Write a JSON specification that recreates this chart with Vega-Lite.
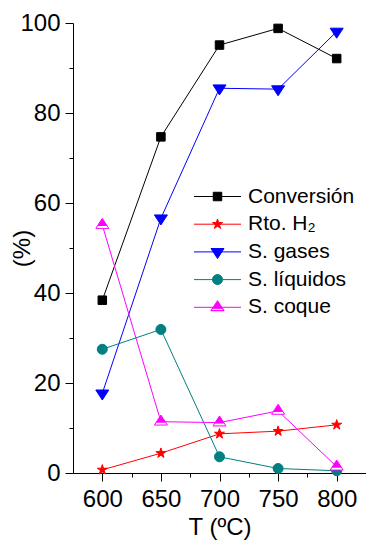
{
  "$schema": "https://vega.github.io/schema/vega-lite/v6.json",
  "width": 293,
  "height": 450,
  "autosize": "none",
  "padding": {"left": 73, "top": 23, "right": 0, "bottom": 69},
  "background": "white",
  "config": {
    "view": {"stroke": null},
    "axis": {
      "labelFont": "Liberation Sans",
      "titleFont": "Liberation Sans",
      "labelFontSize": 24,
      "titleFontSize": 24,
      "titleFontWeight": "normal",
      "labelColor": "#000",
      "titleColor": "#000",
      "domainColor": "#000",
      "tickColor": "#000",
      "domainWidth": 1,
      "tickWidth": 1,
      "grid": false
    },
    "legend": {
      "labelFont": "Liberation Sans",
      "labelFontSize": 21,
      "labelColor": "#000",
      "symbolStrokeWidth": 1,
      "symbolOpacity": 1,
      "padding": 0,
      "rowPadding": 5.7,
      "labelOffset": 20,
      "symbolSize": 100
    }
  },
  "data": {
    "values": [
      {"T": 600, "serie": "Conversión", "value": 38.4},
      {"T": 650, "serie": "Conversión", "value": 74.7},
      {"T": 700, "serie": "Conversión", "value": 95.1},
      {"T": 750, "serie": "Conversión", "value": 98.8},
      {"T": 800, "serie": "Conversión", "value": 92.1},
      {"T": 600, "serie": "Rto. H₂", "value": 0.7},
      {"T": 650, "serie": "Rto. H₂", "value": 4.4},
      {"T": 700, "serie": "Rto. H₂", "value": 8.7},
      {"T": 750, "serie": "Rto. H₂", "value": 9.3},
      {"T": 800, "serie": "Rto. H₂", "value": 10.7},
      {"T": 600, "serie": "S. gases", "value": 17.7},
      {"T": 650, "serie": "S. gases", "value": 56.6},
      {"T": 700, "serie": "S. gases", "value": 85.5},
      {"T": 750, "serie": "S. gases", "value": 85.3},
      {"T": 800, "serie": "S. gases", "value": 98.1},
      {"T": 600, "serie": "S. líquidos", "value": 27.5},
      {"T": 650, "serie": "S. líquidos", "value": 31.9},
      {"T": 700, "serie": "S. líquidos", "value": 3.6},
      {"T": 750, "serie": "S. líquidos", "value": 1.0},
      {"T": 800, "serie": "S. líquidos", "value": 0.5},
      {"T": 600, "serie": "S. coque", "value": 55.1},
      {"T": 650, "serie": "S. coque", "value": 11.4},
      {"T": 700, "serie": "S. coque", "value": 11.2},
      {"T": 750, "serie": "S. coque", "value": 13.8},
      {"T": 800, "serie": "S. coque", "value": 1.4}
    ]
  },
  "layer": [
    {
      "transform": [{"filter": "false"}],
      "mark": {"type": "point", "filled": true, "size": 100, "strokeWidth": 1, "opacity": 1},
      "encoding": {
        "x": {"field": "T", "type": "quantitative", "axis": null},
        "y": {"field": "value", "type": "quantitative", "axis": null},
        "fill": {"field": "serie", "type": "nominal",
                 "scale": {"domain": ["Conversión", "Rto. H₂", "S. gases", "S. líquidos", "S. coque"], "range": ["#000000", "#FF0000", "#0000FF", "#008080", "#FF00FF"]},
                 "legend": {"orient": "none", "legendX": 134, "legendY": 163, "title": null}},
        "stroke": {"field": "serie", "type": "nominal",
                   "scale": {"domain": ["Conversión", "Rto. H₂", "S. gases", "S. líquidos", "S. coque"], "range": ["#000000", "#FF0000", "#0000FF", "#008080", "#FF00FF"]},
                   "legend": {"orient": "none", "legendX": 134, "legendY": 163, "title": null}},
        "shape": {"field": "serie", "type": "nominal",
                  "scale": {"domain": ["Conversión", "Rto. H₂", "S. gases", "S. líquidos", "S. coque"],
                            "range": [
                              "M-4.7,0H4.7M-0.85,-0.85H0.85V0.85H-0.85Z",
                              "M-4.7,0H4.7M0,-1.05L0.236,-0.324L0.999,-0.324L0.381,0.124L0.617,0.849L0,0.401L-0.617,0.849L-0.381,0.124L-0.999,-0.324L-0.236,-0.324Z",
                              "M-4.7,0H4.7M-1.3,-0.67H1.3L0,1.33Z",
                              "M-4.7,0H4.7M1,0A1,1,0,1,1,-1,0A1,1,0,1,1,1,0Z",
                              "M-4.7,0H4.7M0,-1.33L0.995,0.2H-0.995ZM-0.995,0.2L-1.3,0.67H1.3L0.995,0.2L1.3,0.67H-1.3Z"
                            ]},
                  "legend": {"orient": "none", "legendX": 134, "legendY": 163, "title": null}}
      }
    },
    {
      "mark": {"type": "line", "strokeWidth": 1},
      "encoding": {
        "x": {"field": "T", "type": "quantitative", "scale": {"domain": [575, 825], "nice": false, "zero": false},
              "axis": {"values": [600, 650, 700, 750, 800], "tickSize": 8, "labelPadding": 6, "title": "T (ºC)", "titlePadding": 4, "orient": "bottom", "labelFlush": false}},
        "y": {"field": "value", "type": "quantitative", "scale": {"domain": [0, 100], "nice": false},
              "axis": {"values": [0, 20, 40, 60, 80, 100], "tickSize": 8, "labelPadding": 5, "title": "(%)", "titlePadding": -15, "orient": "left", "labelFlush": false}},
        "stroke": {"field": "serie", "type": "nominal",
                   "legend": {"orient": "none", "legendX": 134, "legendY": 163, "title": null}}
      }
    },
    {
      "transform": [{"filter": "datum.serie == 'Conversión'"}],
      "mark": {"type": "point", "filled": true, "size": 100, "strokeWidth": 1, "opacity": 1, "fill": "#000000", "stroke": "#000000", "shape": "M-0.85,-0.85H0.85V0.85H-0.85Z"},
      "encoding": {
        "x": {"field": "T", "type": "quantitative", "axis": null},
        "y": {"field": "value", "type": "quantitative", "axis": null}
      }
    },
    {
      "transform": [{"filter": "datum.serie == 'Rto. H₂'"}],
      "mark": {"type": "point", "filled": true, "size": 100, "strokeWidth": 1, "opacity": 1, "fill": "#FF0000", "stroke": "#FF0000", "shape": "M0,-1.05L0.236,-0.324L0.999,-0.324L0.381,0.124L0.617,0.849L0,0.401L-0.617,0.849L-0.381,0.124L-0.999,-0.324L-0.236,-0.324Z"},
      "encoding": {
        "x": {"field": "T", "type": "quantitative", "axis": null},
        "y": {"field": "value", "type": "quantitative", "axis": null}
      }
    },
    {
      "transform": [{"filter": "datum.serie == 'S. gases'"}],
      "mark": {"type": "point", "filled": true, "size": 100, "strokeWidth": 1, "opacity": 1, "fill": "#0000FF", "stroke": "#0000FF", "shape": "M-1.3,-0.67H1.3L0,1.33Z"},
      "encoding": {
        "x": {"field": "T", "type": "quantitative", "axis": null},
        "y": {"field": "value", "type": "quantitative", "axis": null}
      }
    },
    {
      "transform": [{"filter": "datum.serie == 'S. líquidos'"}],
      "mark": {"type": "point", "filled": true, "size": 100, "strokeWidth": 1, "opacity": 1, "fill": "#008080", "stroke": "#008080", "shape": "M1,0A1,1,0,1,1,-1,0A1,1,0,1,1,1,0Z"},
      "encoding": {
        "x": {"field": "T", "type": "quantitative", "axis": null},
        "y": {"field": "value", "type": "quantitative", "axis": null}
      }
    },
    {
      "transform": [{"filter": "datum.serie == 'S. coque'"}],
      "mark": {"type": "point", "filled": true, "size": 100, "strokeWidth": 1, "opacity": 1, "fill": "#FFFFFF", "stroke": "#FF00FF", "shape": "M0,-1.33L1.3,0.67H-1.3Z"},
      "encoding": {
        "x": {"field": "T", "type": "quantitative", "axis": null},
        "y": {"field": "value", "type": "quantitative", "axis": null}
      }
    },
    {
      "transform": [{"filter": "datum.serie == 'S. coque'"}],
      "mark": {"type": "point", "filled": true, "size": 100, "strokeWidth": 0, "opacity": 1, "fill": "#FF00FF", "shape": "M0,-1.33L0.995,0.2H-0.995Z"},
      "encoding": {
        "x": {"field": "T", "type": "quantitative", "axis": null},
        "y": {"field": "value", "type": "quantitative", "axis": null}
      }
    },
    {
      "transform": [{"filter": "false"}],
      "mark": {"type": "point"},
      "encoding": {
        "x": {"field": "T", "type": "quantitative",
              "axis": {"values": [625, 675, 725, 775], "tickSize": 4, "labels": false, "domain": false, "title": null, "orient": "bottom"}},
        "y": {"field": "value", "type": "quantitative",
              "axis": {"values": [10, 30, 50, 70, 90], "tickSize": 4, "labels": false, "domain": false, "title": null, "orient": "left"}}
      }
    }
  ],
  "resolve": {"axis": {"x": "independent", "y": "independent"}}
}
